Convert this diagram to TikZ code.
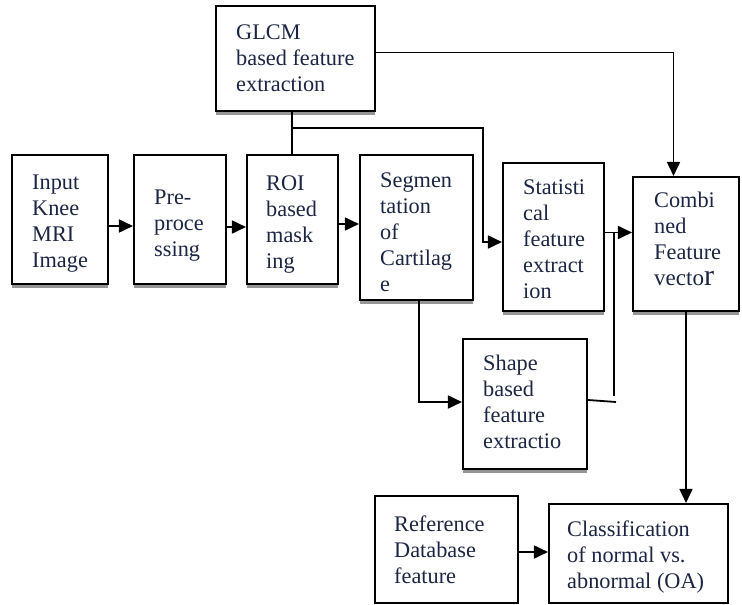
\documentclass[tikz,border=0pt]{standalone}
\usepackage{fontspec}
\setmainfont{Liberation Serif}
\usetikzlibrary{arrows.meta,fit}
\definecolor{textc}{RGB}{28,38,68}
\definecolor{shadowc}{RGB}{150,150,150}
\tikzset{
  box/.style={draw=black, line width=2.1pt, inner sep=0pt, fill=white},
  txt/.style={anchor=north west, inner sep=0pt, align=left, text=textc,
              font=\fontsize{22.3}{26}\selectfont},
  conn/.style={draw=black, line width=1.8pt},
  arr/.style={conn, -{Triangle[length=14pt,width=13pt]}},
  shad/.style={fill=shadowc}
}
\newcommand{\st}{\rule{0pt}{17pt}}
\begin{document}
\begin{tikzpicture}[x=1pt,y=-1pt]
\useasboundingbox (0,0) rectangle (742,605);
% shadows
\fill[shad] (216,111) rectangle (375,115);
\fill[shad] (12,284) rectangle (108,288);
\fill[shad] (134,284) rectangle (226,288);
\fill[shad] (247,284) rectangle (338,288);
\fill[shad] (360,300) rectangle (473,304);
\fill[shad] (503,311) rectangle (604,315);
\fill[shad] (633,311) rectangle (739,315);
\fill[shad] (463,469) rectangle (587,473);
% boxes
\node[box, fit={(216,6) (375,111)}] (glcm) {};
\node[box, fit={(12,155) (108,284)}] (in) {};
\node[box, fit={(134,155) (226,284)}] (pre) {};
\node[box, fit={(247,155) (338,284)}] (roi) {};
\node[box, fit={(360,155) (473,300)}] (seg) {};
\node[box, fit={(503,163) (604,311)}] (stat) {};
\node[box, fit={(633,177) (739,311)}] (comb) {};
\node[box, fit={(463,339) (587,469)}] (shape) {};
\node[box, fit={(375,496) (518,603)}] (ref) {};
\node[box, fit={(549,504) (728,603)}] (cls) {};
% texts
\node[txt] (glcm-t) at (236,22.5) {\st GLCM\\based feature\\extraction};
\node[txt] (in-t) at (32,172) {\st Input\\Knee\\MRI\\Image};
\node[txt] (pre-t) at (154,187) {\st Pre-\\proce\\ssing};
\node[txt] (roi-t) at (266,173) {\st ROI\\based\\mask\\ing};
\node[txt] (seg-t) at (380,170) {\st Segmen\\tation\\of\\Cartilag\\e};
\node[txt] (stat-t) at (523,177) {\st Statisti\\cal\\feature\\extract\\ion};
\node[txt] (comb-t) at (654,190) {\st Combi\\ned\\Feature\\{\fontsize{23}{26}\selectfont vecto}{\fontsize{30}{26}\selectfont r}};
\node[txt] (shape-t) at (483,353) {\st Shape\\based\\feature\\extractio};
\node[txt] (ref-t) at (394,514.5) {\st Reference\\Database\\feature};
\node[txt] (cls-t) at (567,519) {\st Classification\\of normal vs.\\abnormal (OA)};
% connectors
\draw[arr] (in.east |- 0,226) -- (pre.west |- 0,226);
\draw[arr] (pre.east |- 0,227) -- (roi.west |- 0,227);
\draw[arr] (roi.east |- 0,224) -- (seg.west |- 0,224);
\coordinate (gc) at (673.5,52.5);
\draw[arr] (glcm.east |- gc) -| (comb.north -| gc);
\coordinate (j1) at (292,128);
\draw[conn] (glcm.south -| j1) -- (roi.north -| j1);
\coordinate (j2) at (483,242);
\draw[arr] (j1) -| (j2) -- (stat.west |- j2);
\draw[arr] (stat.east |- 0,232.5) -- (comb.west |- 0,232.5);
\coordinate (j3) at (419,402);
\draw[arr] (seg.south -| j3) -- (j3) -- (shape.west |- j3);
\coordinate (j4) at (616,402);
\draw[conn] (shape.east |- 0,400) -- (j4);
\coordinate (j5) at (614,396);
\coordinate (j6) at (614,233);
\draw[conn] (j5) -- (j6);
\draw[arr] (comb.south) -- (cls.north -| comb.south);
\draw[arr] (ref.east |- 0,552) -- (cls.west |- 0,552);
\end{tikzpicture}
\end{document}
